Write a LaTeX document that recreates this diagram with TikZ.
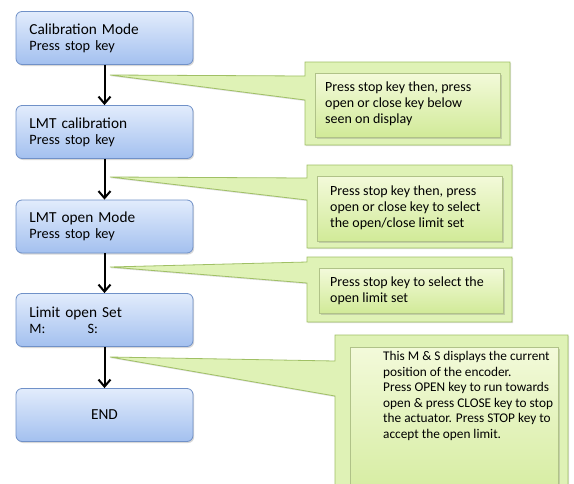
\documentclass[tikz,border=0pt]{standalone}
\usepackage{fontspec}
\setmainfont{Carlito}
\usetikzlibrary{shadows,arrows.meta}
\definecolor{bluetop}{HTML}{E2ECFC}
\definecolor{bluebot}{HTML}{A3C0EF}
\definecolor{blueline}{HTML}{7091C8}
\definecolor{calfill}{HTML}{DFF2B6}
\definecolor{calline}{HTML}{A0C065}
\definecolor{intop}{HTML}{F3FADA}
\definecolor{inbot}{HTML}{D1EA98}
\definecolor{inline}{HTML}{B0C288}
\begin{document}
\begin{tikzpicture}[x=1pt,y=-1pt,
  bluebox/.style={draw=blueline, line width=0.8pt, rounded corners=6pt,
    top color=bluetop, bottom color=bluebot,
    minimum width=177pt, minimum height=53pt, text width=150pt, align=left,
    font=\fontsize{15.3}{17}\selectfont,
    drop shadow={shadow xshift=1.2pt, shadow yshift=-1.5pt, opacity=0.3}},
  flow/.style={line width=2pt, -{Straight Barb[length=7pt,width=12pt,line width=2pt]}},
  calout/.style={fill=calfill, draw=calline, line width=0.8pt, line join=miter,
    drop shadow={shadow xshift=1pt, shadow yshift=-1.2pt, opacity=0.25}},
  inbox/.style={draw=inline, line width=0.6pt, top color=intop, bottom color=inbot,
    inner sep=0pt, anchor=north west,
    drop shadow={shadow xshift=1.2pt, shadow yshift=-1.5pt, opacity=0.3}},
  ctext/.style={anchor=west, align=left, inner sep=0pt,
    font=\fontsize{14}{15.8}\selectfont}
]
\useasboundingbox (0,0) rectangle (574,483);
\clip (0,0) rectangle (574,483);
\fill[white] (0,0) rectangle (574,483);

% flow boxes
\node[bluebox] (b1) at (104.5,38) {Calibration Mode\\[-1pt]{\fontsize{14.3}{15}\selectfont Press stop key}};
\node[bluebox] (b2) at (104.5,132) {LMT calibration\\[-1pt]{\fontsize{14.3}{15}\selectfont Press stop key}};
\node[bluebox] (b3) at (104.5,226.5) {LMT open Mode\\[-1pt]{\fontsize{14.3}{15}\selectfont Press stop key}};
\node[bluebox] (b4) at (104.5,320) {Limit open Set\\[-1pt]{\fontsize{14.3}{15}\selectfont \makebox[58pt][l]{M:}S:}};
\node[bluebox, align=center] (b5) at (104.5,415) {END};

% callout tips
\coordinate (t1) at (110,75);
\coordinate (t2) at (110,177);
\coordinate (t3) at (110,267);
\coordinate (t4) at (110,357);

% callout 1
\path[calout] (305,62) -- (510,62) -- (510,145) -- (305,145) -- (305,100) -- (t1) -- (305,76) -- cycle;
\node[inbox, minimum width=185pt, minimum height=64pt] (i1) at (315,73) {};
\node[ctext] (c1) at (325,104) {Press stop key then, press\\open or close key below\\seen on display};

% callout 2
\path[calout] (307,165) -- (512,165) -- (512,248) -- (307,248) -- (307,200) -- (t2) -- (307,178) -- cycle;
\node[inbox, minimum width=185pt, minimum height=65pt] (i2) at (317,176) {};
\node[ctext] (c2) at (330,208) {Press stop key then, press\\open or close key to select\\the open/close limit set};

% callout 3
\path[calout] (307,257) -- (512,257) -- (512,322) -- (307,322) -- (307,283) -- (t3) -- (307,262) -- cycle;
\node[inbox, minimum width=184pt, minimum height=45pt] (i3) at (319,268) {};
\node[ctext] (c3) at (330,291) {Press stop key to select the\\open limit set};

% callout 4
\path[calout] (335,335) -- (568,335) -- (568,520) -- (335,520) -- (335,396) -- (t4) -- (335,361) -- cycle;
\node[inbox, minimum width=208pt, minimum height=170pt] (i4) at (350,347) {};
\node[ctext, anchor=north west, font=\fontsize{13.3}{15.6}\selectfont] (c4) at (383,351) {This M \& S displays the current\\position of the encoder.\\Press OPEN key to run towards\\open \& press CLOSE key to stop\\the actuator. Press STOP key to\\accept the open limit.};

% connectors
\draw[flow] (b1.south) -- (b2.north);
\draw[flow] (b2.south) -- (b3.north);
\draw[flow] (b3.south) -- (b4.north);
\draw[flow] (b4.south) -- (b5.north);
\end{tikzpicture}
\end{document}
